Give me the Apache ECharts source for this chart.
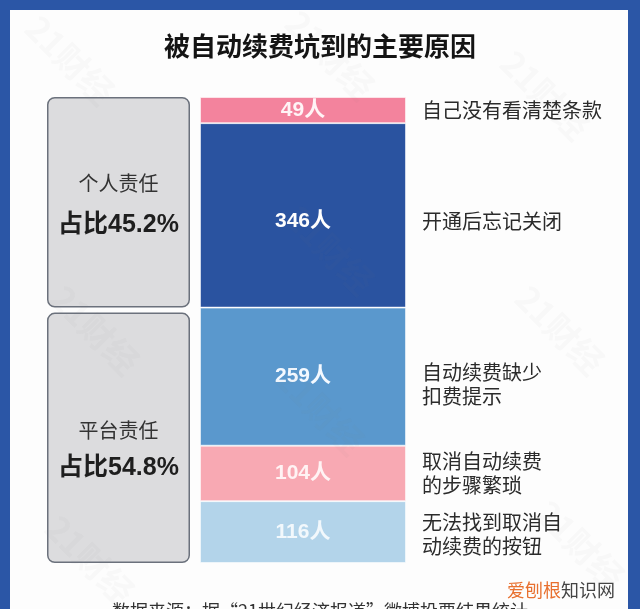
<!DOCTYPE html>
<html><head><meta charset="utf-8">
<script src="https://cdn.jsdelivr.net/npm/echarts@6/dist/echarts.min.js"></script>
<style>html,body{margin:0;padding:0;}#c{width:640px;height:609px;}</style>
</head><body><div id="c"></div>
<script>
const reasons = ['自己没有看清楚条款', '开通后忘记关闭', '自动续费缺少\n扣费提示', '取消自动续费\n的步骤繁琐', '无法找到取消自\n动续费的按钮'];
const counts = [49, 346, 259, 104, 116];
const barColors = ['#f3839d', '#2a53a0', '#5a98cd', '#f8a9b3', '#b3d4ea'];
const labelColors = ['#fff4f6', '#ffffff', '#f4f9ff', '#fff3f4', '#f2f8fc'];
const groupNames = ['个人责任', '平台责任'];
const groupPcts = ['占比45.2%', '占比54.8%'];
const groupSizes = [2, 3]; // number of reasons in each group

const FONT = '"Noto Sans CJK SC", "Noto Sans", sans-serif';
const NUMFONT = '"Liberation Sans", "Noto Sans CJK SC", sans-serif';
const total = counts.reduce((a, b) => a + b, 0);

const groupData = [];
let idx = 0, acc = 0;
groupSizes.forEach((n, g) => {
  const start = acc;
  for (let k = 0; k < n; k++) { acc += counts[idx++]; }
  groupData.push({ value: [0, start, acc], name: groupNames[g] });
});

const chart = echarts.init(document.getElementById('c'), null, { renderer: 'canvas' });

const descOffsets = [[0, 0], [0, 6], [0, 8], [0, 0], [0, 2]];
const numOffsets = [[0, 0], [0, 6], [0, 0], [0, 0], [0, 0]];

const barSeries = counts.map((v, i) => ({
  type: 'bar', stack: 'a', xAxisIndex: 0, yAxisIndex: 0, barWidth: '100%',
  data: [v], z: 3,
  itemStyle: { color: barColors[i], borderColor: 'rgba(255,255,255,0.55)', borderWidth: 1 },
  label: { show: true, position: 'inside', formatter: '{c}人', color: labelColors[i],
    fontSize: 21, fontWeight: 'bold', fontFamily: NUMFONT, offset: numOffsets[i] },
  emphasis: { disabled: true }, silent: true
}));

const descSeries = counts.map((v, i) => ({
  type: 'bar', stack: 'b', xAxisIndex: 1, yAxisIndex: 1, barWidth: '100%',
  data: [v], z: 3,
  itemStyle: { color: 'rgba(0,0,0,0)' },
  label: { show: true, position: 'insideLeft', distance: 0, formatter: reasons[i], color: '#2b2b2b',
    fontSize: 20, lineHeight: 24, fontFamily: FONT, offset: descOffsets[i] },
  emphasis: { disabled: true }, silent: true
}));

const textOffsets = [[-19, 23], [-7, 30]];

const boxSeries = {
  type: 'custom', xAxisIndex: 2, yAxisIndex: 2, z: 3, silent: true,
  data: groupData,
  renderItem: function (params, api) {
    const i = params.dataIndex;
    const cs = params.coordSys;
    let y0 = api.coord([0, api.value(1)])[1];
    const y1 = api.coord([0, api.value(2)])[1];
    if (i > 0) y0 += 5;
    const cx = cs.x + cs.width / 2;
    const cy = (y0 + y1) / 2;
    return {
      type: 'group',
      children: [
        { type: 'rect', shape: { x: cs.x + 0.75, y: y0 + 0.75, width: cs.width - 1.5, height: y1 - y0 - 1.5, r: 7 },
          style: { fill: '#dcdcde', stroke: '#6b717c', lineWidth: 1.5 } },
        { type: 'text', style: { text: groupNames[i], x: cx, y: cy + textOffsets[i][0], align: 'center', verticalAlign: 'middle',
          fontSize: 20, fontFamily: FONT, fill: '#333333' } },
        { type: 'text', style: { text: groupPcts[i], x: cx, y: cy + textOffsets[i][1], align: 'center', verticalAlign: 'middle',
          fontSize: 25, fontWeight: 'bold', fontFamily: NUMFONT, fill: '#1e1e1e' } }
      ]
    };
  }
};

const yAx = (g) => ({ type: 'value', gridIndex: g, inverse: true, min: 0, max: total, show: false });
const xAx = (g) => ({ type: 'category', gridIndex: g, data: [''], show: false });

const wm = [[70, 60], [330, 55], [545, 95], [560, 330], [320, 410], [90, 560], [580, 545], [95, 330], [330, 250]].map(p => ({
  type: 'text', z: 20, x: p[0], y: p[1], rotation: -Math.PI / 4,
  style: { text: '21财经', fontSize: 34, fontWeight: 'bold', fontFamily: FONT, fill: 'rgba(120,120,120,0.04)', align: 'center', verticalAlign: 'middle' }
}));

const option = {
  backgroundColor: '#2b56a6',
  animation: false,
  title: {
    text: '被自动续费坑到的主要原因', left: 'center', top: 28,
    textStyle: { fontSize: 26, fontWeight: 'bold', color: '#141414', fontFamily: FONT }
  },
  graphic: [
    { type: 'rect', z: -10, shape: { x: 10, y: 10, width: 618, height: 620 }, style: { fill: '#fdfdfd' } },
    { type: 'text', z: 10, style: { text: '数据来源：据“21世纪经济报道”微博投票结果统计', x: 320, y: 611, align: 'center', verticalAlign: 'middle',
      fontSize: 18, fontFamily: FONT, fill: '#333333' } },
    { type: 'text', z: 10, style: { x: 507, y: 590, verticalAlign: 'middle', text: '{a|爱刨根}{b|知识网}',
      rich: { a: { fontSize: 18, fontFamily: FONT, fill: '#e8702f', color: '#e8702f' },
              b: { fontSize: 18, fontFamily: FONT, fill: '#444444', color: '#444444' } } } },
    ...wm
  ],
  grid: [
    { left: 200, width: 206, top: 97, height: 466 },
    { left: 422, width: 190, top: 97, height: 466 },
    { left: 47, width: 143, top: 97, height: 466 }
  ],
  xAxis: [xAx(0), xAx(1), xAx(2)],
  yAxis: [yAx(0), yAx(1), yAx(2)],
  series: [...barSeries, ...descSeries, boxSeries]
};
chart.setOption(option);
</script></body></html>
